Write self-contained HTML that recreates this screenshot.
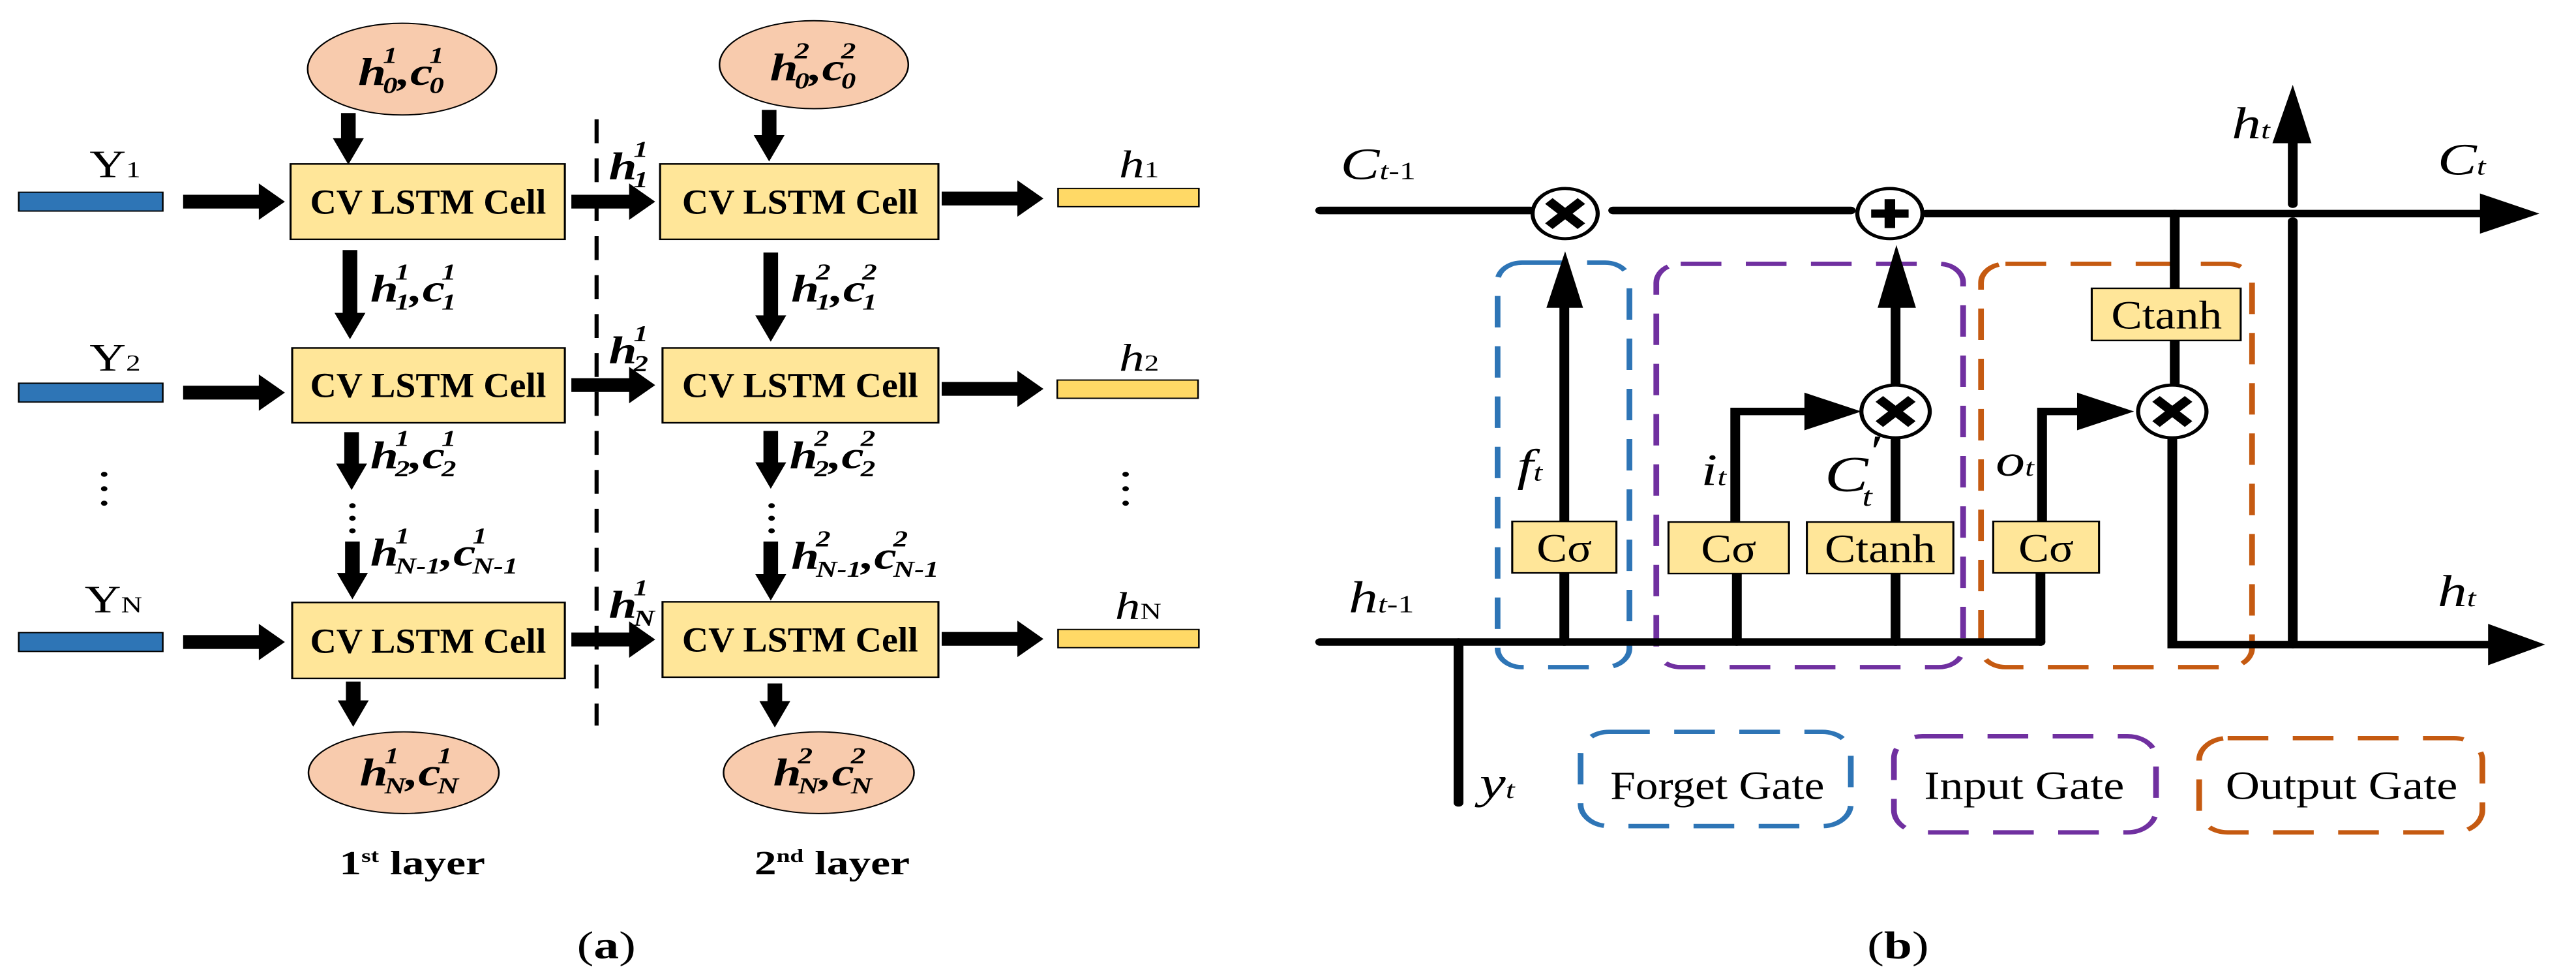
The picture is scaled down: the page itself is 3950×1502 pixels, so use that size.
<!DOCTYPE html>
<html><head><meta charset="utf-8"><style>
html,body{margin:0;padding:0;background:#fff;}
svg{display:block;}
text{font-family:"Liberation Serif",serif;}
.cell{font-weight:bold;font-size:56px;}
.lab{font-weight:bold;font-style:italic;font-size:62px;}
.sm{font-size:36px;}
</style></head><body>
<svg width="3950" height="1502" viewBox="0 0 3165 1560" preserveAspectRatio="none" xmlns="http://www.w3.org/2000/svg">
<!-- PANEL A -->
<g>
<ellipse cx="494" cy="110" rx="116" ry="73" fill="#f8cbad" stroke="#000" stroke-width="2"/>
<ellipse cx="1000" cy="103" rx="116" ry="70" fill="#f8cbad" stroke="#000" stroke-width="2"/>
<text class="lab" x="440" y="135">h<tspan class="sm" dx="-4" dy="-35">1</tspan><tspan class="sm" dx="-18" dy="48">0</tspan><tspan dy="-13">,c</tspan><tspan class="sm" dx="-4" dy="-35">1</tspan><tspan class="sm" dx="-18" dy="48">0</tspan></text>
<text class="lab" x="946" y="128">h<tspan class="sm" dx="-4" dy="-35">2</tspan><tspan class="sm" dx="-18" dy="48">0</tspan><tspan dy="-13">,c</tspan><tspan class="sm" dx="-4" dy="-35">2</tspan><tspan class="sm" dx="-18" dy="48">0</tspan></text>
<ellipse cx="496" cy="1230" rx="117" ry="65" fill="#f8cbad" stroke="#000" stroke-width="2"/>
<ellipse cx="1006" cy="1230" rx="117" ry="65" fill="#f8cbad" stroke="#000" stroke-width="2"/>
<text class="lab" x="442" y="1250">h<tspan class="sm" dx="-4" dy="-35">1</tspan><tspan class="sm" dx="-18" dy="48">N</tspan><tspan dy="-13">,c</tspan><tspan class="sm" dx="-4" dy="-35">1</tspan><tspan class="sm" dx="-18" dy="48">N</tspan></text>
<text class="lab" x="950" y="1250">h<tspan class="sm" dx="-4" dy="-35">2</tspan><tspan class="sm" dx="-18" dy="48">N</tspan><tspan dy="-13">,c</tspan><tspan class="sm" dx="-4" dy="-35">2</tspan><tspan class="sm" dx="-18" dy="48">N</tspan></text>

<g fill="#ffe699" stroke="#000" stroke-width="2.5">
<rect x="357" y="261" width="337" height="120"/>
<rect x="359" y="554" width="335" height="119"/>
<rect x="359" y="959" width="335" height="121"/>
<rect x="811" y="261" width="342" height="120"/>
<rect x="814" y="554" width="339" height="119"/>
<rect x="814" y="958" width="339" height="120"/>
</g>
<g class="cell" text-anchor="middle">
<text x="526" y="340" textLength="290" lengthAdjust="spacingAndGlyphs">CV LSTM Cell</text>
<text x="526" y="632" textLength="290" lengthAdjust="spacingAndGlyphs">CV LSTM Cell</text>
<text x="526" y="1039" textLength="290" lengthAdjust="spacingAndGlyphs">CV LSTM Cell</text>
<text x="983" y="340" textLength="290" lengthAdjust="spacingAndGlyphs">CV LSTM Cell</text>
<text x="983" y="632" textLength="290" lengthAdjust="spacingAndGlyphs">CV LSTM Cell</text>
<text x="983" y="1037" textLength="290" lengthAdjust="spacingAndGlyphs">CV LSTM Cell</text>
</g>
<g fill="#2e75b6" stroke="#000" stroke-width="2">
<rect x="23" y="306" width="177" height="30"/>
<rect x="23" y="610" width="177" height="30"/>
<rect x="23" y="1007" width="177" height="30"/>
</g>
<g fill="#ffd966" stroke="#000" stroke-width="2">
<rect x="1300" y="300" width="173" height="29"/>
<rect x="1299" y="605" width="173" height="29"/>
<rect x="1300" y="1002" width="173" height="29"/>
</g>
<line x1="733" y1="190" x2="733" y2="1155" stroke="#000" stroke-width="5" stroke-dasharray="38,24"/>
<g fill="#000">
<path d="M225,310 h93 v-18 l32,29 l-32,29 v-18 h-93z"/>
<path d="M225,614 h93 v-18 l32,29 l-32,29 v-18 h-93z"/>
<path d="M225,1011 h93 v-18 l32,29 l-32,29 v-18 h-93z"/>
<path d="M702,310 h71 v-18 l32,29 l-32,29 v-18 h-71z"/>
<path d="M702,602 h71 v-18 l32,29 l-32,29 v-18 h-71z"/>
<path d="M702,1007 h71 v-18 l32,29 l-32,29 v-18 h-71z"/>
<path d="M1157,305 h93 v-18 l32,29 l-32,29 v-18 h-93z"/>
<path d="M1157,608 h93 v-18 l32,29 l-32,29 v-18 h-93z"/>
<path d="M1157,1006 h93 v-18 l32,29 l-32,29 v-18 h-93z"/>
</g>
<g fill="#000">
<path d="M419,180 v40 h-10 l19,42 l19,-42 h-10 v-40z"/>
<path d="M936,175 v40 h-10 l19,42 l19,-42 h-10 v-40z"/>
<path d="M421,398 v100 h-10 l19,42 l19,-42 h-10 v-100z"/>
<path d="M938,402 v100 h-10 l19,42 l19,-42 h-10 v-100z"/>
<path d="M423,688 v50 h-10 l19,42 l19,-42 h-10 v-50z"/>
<path d="M938,686 v50 h-10 l19,42 l19,-42 h-10 v-50z"/>
<path d="M424,862 v50 h-10 l19,42 l19,-42 h-10 v-50z"/>
<path d="M938,862 v52 h-10 l19,42 l19,-42 h-10 v-52z"/>
<path d="M425,1085 v30 h-10 l19,42 l19,-42 h-10 v-30z"/>
<path d="M943,1088 v28 h-10 l19,42 l19,-42 h-10 v-28z"/>
</g>
<g fill="#000">
<circle cx="433" cy="805" r="4"/><circle cx="433" cy="825" r="4"/><circle cx="433" cy="845" r="4"/>
<circle cx="948" cy="805" r="4"/><circle cx="948" cy="825" r="4"/><circle cx="948" cy="845" r="4"/>
<circle cx="128" cy="755" r="4"/><circle cx="128" cy="778" r="4"/><circle cx="128" cy="801" r="4"/>
<circle cx="1383" cy="755" r="4"/><circle cx="1383" cy="778" r="4"/><circle cx="1383" cy="801" r="4"/>
</g>
<g font-size="62">
<text x="110" y="282">Y<tspan font-size="36">1</tspan></text>
<text x="110" y="590">Y<tspan font-size="36">2</tspan></text>
<text x="104" y="975">Y<tspan font-size="36">N</tspan></text>
<text x="1375" y="282" font-style="italic">h<tspan font-size="36" font-style="normal">1</tspan></text>
<text x="1375" y="590" font-style="italic">h<tspan font-size="36" font-style="normal">2</tspan></text>
<text x="1370" y="985" font-style="italic">h<tspan font-size="36" font-style="normal">N</tspan></text>
</g>
<text class="lab" x="748" y="285">h<tspan class="sm" dx="-4" dy="-35">1</tspan><tspan class="sm" dx="-18" dy="48">1</tspan></text>
<text class="lab" x="748" y="578">h<tspan class="sm" dx="-4" dy="-35">1</tspan><tspan class="sm" dx="-18" dy="48">2</tspan></text>
<text class="lab" x="748" y="983">h<tspan class="sm" dx="-4" dy="-35">1</tspan><tspan class="sm" dx="-18" dy="48">N</tspan></text>
<text class="lab" x="455" y="480">h<tspan class="sm" dx="-4" dy="-35">1</tspan><tspan class="sm" dx="-18" dy="48">1</tspan><tspan dy="-13">,c</tspan><tspan class="sm" dx="-4" dy="-35">1</tspan><tspan class="sm" dx="-18" dy="48">1</tspan></text>
<text class="lab" x="972" y="480">h<tspan class="sm" dx="-4" dy="-35">2</tspan><tspan class="sm" dx="-18" dy="48">1</tspan><tspan dy="-13">,c</tspan><tspan class="sm" dx="-4" dy="-35">2</tspan><tspan class="sm" dx="-18" dy="48">1</tspan></text>
<text class="lab" x="455" y="745">h<tspan class="sm" dx="-4" dy="-35">1</tspan><tspan class="sm" dx="-18" dy="48">2</tspan><tspan dy="-13">,c</tspan><tspan class="sm" dx="-4" dy="-35">1</tspan><tspan class="sm" dx="-18" dy="48">2</tspan></text>
<text class="lab" x="970" y="745">h<tspan class="sm" dx="-4" dy="-35">2</tspan><tspan class="sm" dx="-18" dy="48">2</tspan><tspan dy="-13">,c</tspan><tspan class="sm" dx="-4" dy="-35">2</tspan><tspan class="sm" dx="-18" dy="48">2</tspan></text>
<text class="lab" x="455" y="900">h<tspan class="sm" dx="-4" dy="-35">1</tspan><tspan class="sm" dx="-18" dy="48">N-1</tspan><tspan dy="-13">,c</tspan><tspan class="sm" dx="-4" dy="-35">1</tspan><tspan class="sm" dx="-18" dy="48">N-1</tspan></text>
<text class="lab" x="972" y="905">h<tspan class="sm" dx="-4" dy="-35">2</tspan><tspan class="sm" dx="-18" dy="48">N-1</tspan><tspan dy="-13">,c</tspan><tspan class="sm" dx="-4" dy="-35">2</tspan><tspan class="sm" dx="-18" dy="48">N-1</tspan></text>
<text x="417" y="1392" font-size="54" font-weight="bold">1<tspan font-size="30" dy="-20">st</tspan><tspan dy="20"> layer</tspan></text>
<text x="927" y="1392" font-size="54" font-weight="bold">2<tspan font-size="30" dy="-20">nd</tspan><tspan dy="20"> layer</tspan></text>
<text x="745" y="1525" font-size="62" text-anchor="middle">(<tspan font-weight="bold">a</tspan>)</text>
</g>

<!-- PANEL B -->
<g transform="translate(1582,0)">
<g fill="none" stroke-width="7" stroke-dasharray="50,30">
<rect x="258" y="418" width="162" height="644" rx="30" stroke="#2e75b6"/>
<rect x="453" y="420" width="377" height="642" rx="30" stroke="#7030a0"/>
<rect x="852" y="420" width="333" height="642" rx="30" stroke="#c55a11"/>
<rect x="360" y="1165" width="332" height="150" rx="35" stroke="#2e75b6"/>
<rect x="745" y="1172" width="322" height="153" rx="35" stroke="#7030a0"/>
<rect x="1120" y="1175" width="348" height="150" rx="35" stroke="#c55a11"/>
</g>
<g font-size="64" text-anchor="middle">
<text x="528" y="1272" textLength="263" lengthAdjust="spacingAndGlyphs">Forget Gate</text>
<text x="905" y="1272" textLength="246" lengthAdjust="spacingAndGlyphs">Input Gate</text>
<text x="1295" y="1272" textLength="285" lengthAdjust="spacingAndGlyphs">Output Gate</text>
</g>
<g stroke="#000" stroke-width="12" fill="none" stroke-linecap="round">
<line x1="40" y1="335" x2="298" y2="335"/>
<line x1="400" y1="335" x2="692" y2="335"/>
<line x1="785" y1="340" x2="1470" y2="340"/>
<line x1="40" y1="1022" x2="925" y2="1022"/>
<polyline points="925,1022 925,912"/>
<polyline points="927,830 927,655 975,655"/>
<polyline points="1087,700 1087,1026 1480,1026"/>
<line x1="1090" y1="340" x2="1090" y2="459"/>
<line x1="1090" y1="542" x2="1090" y2="610"/>
<line x1="1235" y1="1026" x2="1235" y2="352"/>
<line x1="1235" y1="325" x2="1235" y2="225"/>
<line x1="210" y1="1022" x2="210" y2="1278"/>
<line x1="340" y1="912" x2="340" y2="1022"/>
<line x1="340" y1="830" x2="340" y2="485"/>
<line x1="552" y1="913" x2="552" y2="1022"/>
<line x1="747" y1="913" x2="747" y2="1022"/>
<polyline points="550,831 550,655 640,655"/>
<line x1="747" y1="831" x2="747" y2="700"/>
<line x1="747" y1="610" x2="747" y2="485"/>
</g>
<g fill="#000">
<polygon points="1465,308 1538,340 1465,372"/>
<polygon points="1475,993 1545,1026 1475,1059"/>
<polygon points="1210,228 1235,135 1258,228"/>
<polygon points="318,490 341,400 363,490"/>
<polygon points="725,490 748,390 772,490"/>
<polygon points="635,625 705,655 635,685"/>
<polygon points="970,625 1040,655 970,685"/>
</g>
<g stroke="#000">
<circle cx="341" cy="340" r="40" fill="#fff" stroke-width="5"/>
<path d="M321,320 L361,360 M361,320 L321,360" stroke-width="13"/>
<circle cx="740" cy="340" r="40" fill="#fff" stroke-width="5"/>
<path d="M740,317 V363 M717,340 H763" stroke-width="13"/>
<circle cx="747" cy="655" r="42" fill="#fff" stroke-width="5"/>
<path d="M727,635 L767,675 M767,635 L727,675" stroke-width="13"/>
<circle cx="1087" cy="655" r="42" fill="#fff" stroke-width="5"/>
<path d="M1067,635 L1107,675 M1107,635 L1067,675" stroke-width="13"/>
</g>
<g fill="#ffe699" stroke="#000" stroke-width="2.5">
<rect x="276" y="830" width="128" height="82"/>
<rect x="468" y="831" width="148" height="82"/>
<rect x="638" y="831" width="180" height="82"/>
<rect x="867" y="830" width="130" height="82"/>
<rect x="988" y="459" width="183" height="83"/>
</g>
<g font-size="64" text-anchor="middle">
<text x="340" y="894" textLength="68" lengthAdjust="spacingAndGlyphs">Cσ</text>
<text x="542" y="895" textLength="68" lengthAdjust="spacingAndGlyphs">Cσ</text>
<text x="728" y="895" textLength="136" lengthAdjust="spacingAndGlyphs">Ctanh</text>
<text x="932" y="894" textLength="68" lengthAdjust="spacingAndGlyphs">Cσ</text>
<text x="1080" y="523" textLength="136" lengthAdjust="spacingAndGlyphs">Ctanh</text>
</g>
<g font-size="72" font-style="italic">
<text x="65" y="285">C<tspan font-size="40">t</tspan><tspan font-size="40" font-style="normal">-1</tspan></text>
<text x="75" y="975">h<tspan font-size="40">t</tspan><tspan font-size="40" font-style="normal">-1</tspan></text>
<text x="282" y="765">f<tspan font-size="40">t</tspan></text>
<text x="508" y="772">i<tspan font-size="40">t</tspan></text>
<text x="660" y="782" font-size="80">C</text><text x="712" y="742">′</text><text x="706" y="805" font-size="44">t</text>
<text x="870" y="757">o<tspan font-size="40">t</tspan></text>
<text x="1160" y="220">h<tspan font-size="40">t</tspan></text>
<text x="1413" y="278">C<tspan font-size="40">t</tspan></text>
<text x="1413" y="965">h<tspan font-size="40">t</tspan></text>
<text x="236" y="1270">y<tspan font-size="40">t</tspan></text>
</g>
<text x="750" y="1525" font-size="62" text-anchor="middle">(<tspan font-weight="bold">b</tspan>)</text>
</g>
</svg>
</body></html>
